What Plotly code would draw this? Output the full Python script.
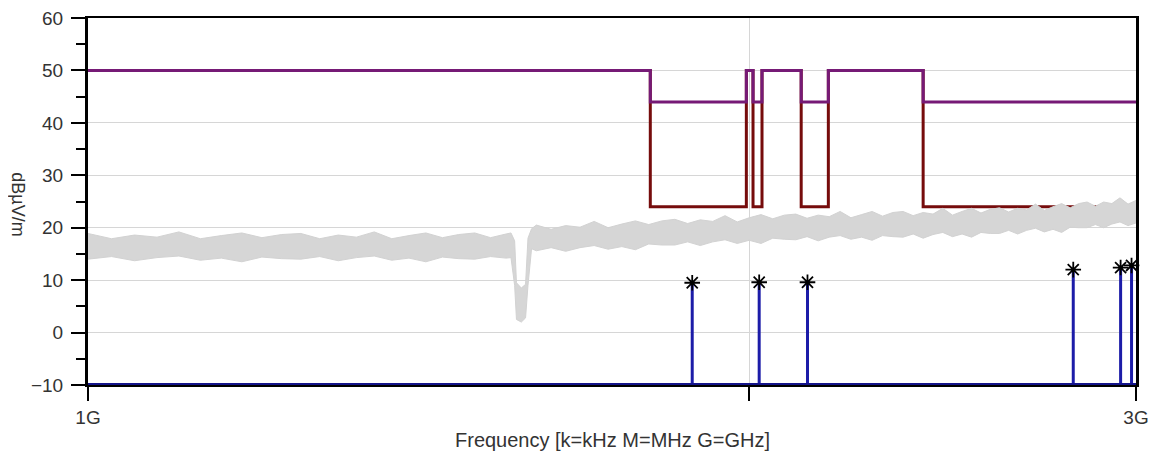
import math
import plotly.graph_objects as go

# ---------------- data ----------------
# limit lines (GHz edges, step values held until next edge)
limit_freq_ghz = [1.000, 1.803, 1.994, 2.008, 2.027, 2.112, 2.173, 2.400, 3.000]
peak_limit_db = [50, 44, 50, 44, 50, 44, 50, 44, 44]
avg_limit_db = [50, 24, 50, 24, 50, 24, 50, 24, 24]

# measured noise trace envelope (GHz, dBuV/m)
trace_freq_ghz = [
    1.000, 1.025, 1.050, 1.075, 1.100, 1.125, 1.150, 1.175, 1.200, 1.225,
    1.250, 1.275, 1.300, 1.325, 1.350, 1.375, 1.400, 1.425, 1.450, 1.475,
    1.500, 1.525, 1.550,
    1.558, 1.564, 1.567, 1.575, 1.582, 1.586, 1.592,
    1.600, 1.625, 1.650, 1.675, 1.700, 1.725, 1.750, 1.775, 1.800, 1.825,
    1.850, 1.875, 1.900, 1.925, 1.950, 1.975, 2.000, 2.025, 2.050, 2.075,
    2.100, 2.125, 2.150, 2.175, 2.200, 2.225, 2.250, 2.275, 2.300, 2.325,
    2.350, 2.375, 2.400, 2.425, 2.450, 2.475, 2.500, 2.525, 2.550, 2.575,
    2.600, 2.625, 2.650, 2.675, 2.700, 2.725, 2.750, 2.775, 2.800, 2.825,
    2.850, 2.875, 2.900, 2.925, 2.950, 2.975, 3.000,
]
trace_upper_db = [
    18.9, 17.9, 18.6, 18.2, 19.2, 17.9, 18.5, 19.0, 18.1, 18.7,
    18.9, 17.9, 18.6, 18.2, 19.2, 17.9, 18.5, 19.0, 18.1, 18.7,
    19.0, 18.1, 18.8,
    19.0, 17.5, 9.5, 8.5, 9.2, 18.0, 19.8,
    20.5, 19.7, 20.4, 20.1, 21.2, 20.0, 20.7, 21.3, 20.6, 21.3,
    21.6, 20.8, 21.5, 21.2, 22.3, 21.1, 21.9, 22.5, 21.7, 22.4,
    22.6, 21.8, 22.4, 22.1, 23.1, 21.9, 22.5, 23.1, 22.2, 22.9,
    23.1, 22.3, 22.9, 22.6, 23.7, 22.4, 23.1, 23.7, 22.8, 23.5,
    23.8, 23.0, 23.7, 23.4, 24.5, 23.3, 24.0, 24.6, 23.8, 24.6,
    24.9, 24.1, 24.9, 24.6, 25.7, 24.5, 25.2,
]
trace_lower_db = [
    14.0, 14.5, 13.7, 14.3, 14.6, 13.8, 14.2, 13.5, 14.4, 14.1,
    14.0, 14.5, 13.7, 14.3, 14.6, 13.8, 14.2, 13.5, 14.4, 14.1,
    14.0, 14.5, 14.2,
    14.3, 9.0, 2.5, 2.0, 2.8, 9.0, 16.0,
    15.6, 16.2, 15.5, 16.2, 16.6, 15.9, 16.4, 15.8, 16.9, 16.7,
    16.7, 17.3, 16.6, 17.3, 17.7, 17.0, 17.6, 17.0, 18.0, 17.8,
    17.7, 18.3, 17.5, 18.2, 18.5, 17.8, 18.2, 17.6, 18.5, 18.3,
    18.2, 18.8, 18.0, 18.7, 19.1, 18.3, 18.8, 18.2, 19.1, 18.9,
    18.9, 19.5, 18.8, 19.5, 19.9, 19.2, 19.7, 19.1, 20.1, 20.0,
    20.0, 20.6, 20.0, 20.7, 21.1, 20.4, 20.9,
]

# detected peaks
peak_freq_ghz = [1.884, 2.021, 2.126, 2.809, 2.952, 2.986]
peak_level_db = [9.5, 9.6, 9.6, 12.0, 12.4, 12.8]
floor_db = -10

x_tick_vals = [1, 2, 3]
x_tick_text = ["1G", "", "3G"]
y_tick_vals = [-10, 0, 10, 20, 30, 40, 50, 60]

# ---------------- figure ----------------
fig = go.Figure()

fig.add_trace(go.Scatter(
    x=limit_freq_ghz, y=avg_limit_db, mode="lines", line_shape="hv",
    line=dict(color="#760c0c", width=3), showlegend=False, cliponaxis=False))
fig.add_trace(go.Scatter(
    x=limit_freq_ghz, y=peak_limit_db, mode="lines", line_shape="hv",
    line=dict(color="#761a76", width=3), showlegend=False, cliponaxis=False))

poly_x = trace_freq_ghz + trace_freq_ghz[::-1]
poly_y = trace_upper_db + trace_lower_db[::-1]
fig.add_trace(go.Scatter(
    x=poly_x, y=poly_y, mode="lines", fill="toself",
    fillcolor="#d6d6d6", line=dict(color="#d2d2d2", width=1),
    showlegend=False))

# stems
stem_x, stem_y = [], []
for f, v in zip(peak_freq_ghz, peak_level_db):
    stem_x += [f, f, None]
    stem_y += [floor_db, v, None]
fig.add_trace(go.Scatter(
    x=stem_x, y=stem_y, mode="lines",
    line=dict(color="#1c1ca8", width=3), showlegend=False, cliponaxis=False))

# floor line
fig.add_trace(go.Scatter(
    x=[x_tick_vals[0], x_tick_vals[-1]], y=[floor_db, floor_db], mode="lines",
    line=dict(color="#14148a", width=4), showlegend=False, cliponaxis=False))

# markers
fig.add_trace(go.Scatter(
    x=peak_freq_ghz, y=peak_level_db, mode="markers",
    marker=dict(symbol="asterisk-open", size=13, color="black",
                line=dict(color="black", width=1.8)),
    showlegend=False, cliponaxis=False))

font_family = "Liberation Sans, Arial, sans-serif"
txt_color = "#333333"
fig.update_layout(
    width=1141, height=443, autosize=False,
    margin=dict(l=80, r=13, t=10, b=66, autoexpand=False),
    paper_bgcolor="white", plot_bgcolor="white",
    font=dict(family=font_family, size=19, color=txt_color),
    xaxis=dict(
        type="log", range=[0, math.log10(3)],
        tickvals=x_tick_vals, ticktext=x_tick_text,
        ticks="outside", ticklen=14, tickwidth=2, tickcolor="black",
        showgrid=True, gridcolor="#d6d6d6", gridwidth=1,
        showline=True, linecolor="black", linewidth=2, mirror=True,
        zeroline=False, layer="below traces", automargin=False,
        ticklabeloverflow="allow",
        tickfont=dict(size=19, color=txt_color),
    ),
    yaxis=dict(
        range=[-10, 60], tickvals=y_tick_vals,
        ticks="outside", ticklen=14, tickwidth=2, tickcolor="black",
        minor=dict(ticks="outside", ticklen=9, tickwidth=2, tickcolor="black",
                   dtick=5, tick0=-10, showgrid=False),
        showgrid=True, gridcolor="#d6d6d6", gridwidth=1,
        showline=True, linecolor="black", linewidth=3, mirror=True,
        zeroline=False, ticklabelstandoff=4, automargin=False,
        ticklabeloverflow="allow",
        tickfont=dict(size=19, color=txt_color),
    ),
    annotations=[
        dict(text="Frequency [k=kHz M=MHz G=GHz]", xref="paper", yref="paper",
             x=0.5, y=-0.15, xanchor="center", yanchor="middle",
             showarrow=False, font=dict(size=20, color=txt_color)),
        dict(text="dBµV/m", xref="paper", yref="paper",
             x=-0.067, y=0.493, xanchor="center", yanchor="middle",
             textangle=90, showarrow=False, font=dict(size=18, color=txt_color)),
    ],
)

fig.write_html("out.html")
